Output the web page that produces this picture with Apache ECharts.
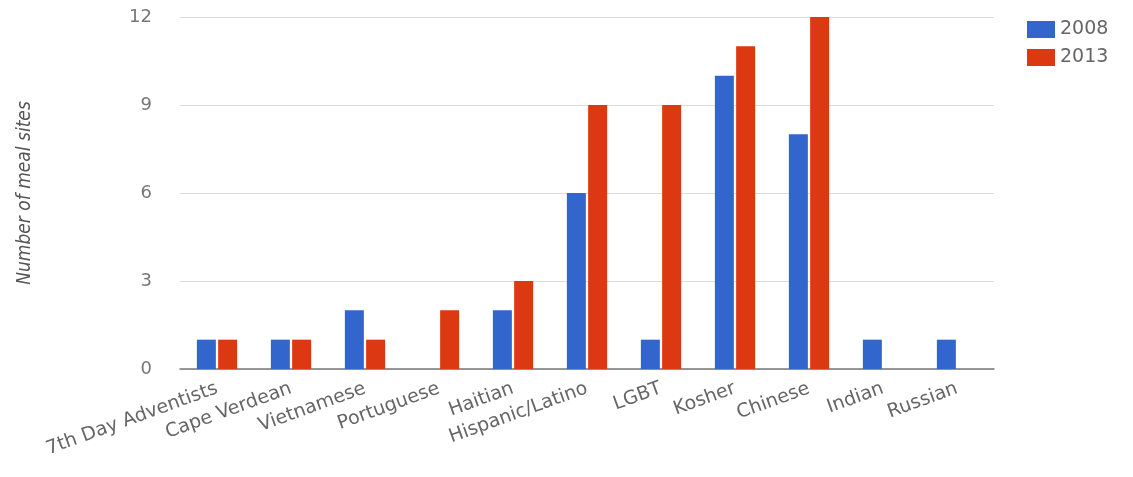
<!DOCTYPE html>
<html><head><meta charset="utf-8">
<script src="https://cdn.jsdelivr.net/npm/echarts@6/dist/echarts.min.js"></script>
<style>html,body{margin:0;padding:0;background:#fff}#c{width:1133px;height:477px}</style>
</head><body><div id="c"></div>
<script>
const categories = ["7th Day Adventists","Cape Verdean","Vietnamese","Portuguese","Haitian","Hispanic/Latino","LGBT","Kosher","Chinese","Indian","Russian"];
const values2008 = [1,1,2,null,2,6,1,10,8,1,1];
const values2013 = [1,1,1,2,3,9,9,11,12,null,null];
const seriesNames = ["2008","2013"];
const yTicks = {min:0,max:12,interval:3};
const chart = echarts.init(document.getElementById('c'));
chart.setOption({
  animation:false,
  grid:{left:180,right:139,top:17,bottom:108},
  legend:{orient:'vertical',left:1022,top:15,itemWidth:28,itemHeight:17,itemGap:9,
    icon:'rect',textStyle:{fontFamily:'DejaVu Sans',fontSize:19,color:'#666'},data:seriesNames},
  xAxis:{type:'category',data:categories,
    axisLine:{lineStyle:{color:'#777',width:1.5}},axisTick:{show:false},
    axisLabel:{rotate:20,interval:0,fontFamily:'DejaVu Sans',fontSize:19,color:'#666',margin:19}},
  yAxis:{type:'value',min:yTicks.min,max:yTicks.max,interval:yTicks.interval,
    name:'Number of meal sites',nameLocation:'middle',nameGap:145,
    nameTextStyle:{fontFamily:'DejaVu Sans Condensed, Liberation Sans Narrow, sans-serif',fontStyle:'italic',fontSize:19,color:'#555'},
    axisLine:{show:false},axisTick:{show:false},
    splitLine:{lineStyle:{color:'#dcdcdc'}},
    axisLabel:{fontFamily:'DejaVu Sans',fontSize:18,color:'#777',margin:28}},
  series:[
    {name:seriesNames[0],type:'bar',data:values2008,barWidth:19,barGap:'12%',itemStyle:{color:'#3366cc'}},
    {name:seriesNames[1],type:'bar',data:values2013,barWidth:19,itemStyle:{color:'#dc3912'}}
  ]
});
</script></body></html>
